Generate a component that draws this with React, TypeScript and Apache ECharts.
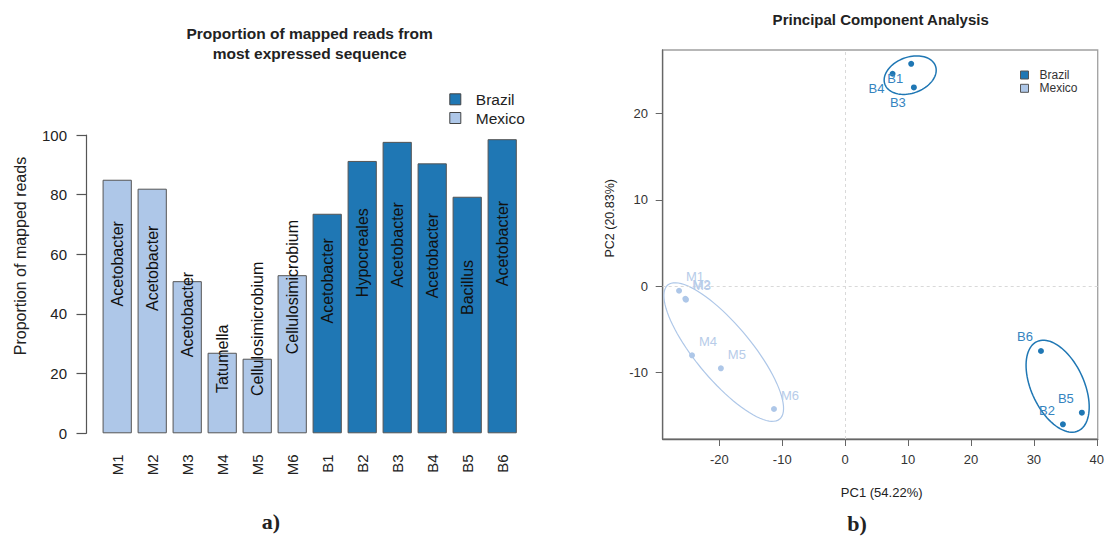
import React, { useEffect, useRef } from "react";
import * as echarts from "echarts";

// ---------- Panel a) data ----------
const sampleIds = ["M1", "M2", "M3", "M4", "M5", "M6", "B1", "B2", "B3", "B4", "B5", "B6"];
const sampleCountry = ["Mexico", "Mexico", "Mexico", "Mexico", "Mexico", "Mexico", "Brazil", "Brazil", "Brazil", "Brazil", "Brazil", "Brazil"];
const topTaxon = ["Acetobacter", "Acetobacter", "Acetobacter", "Tatumella", "Cellulosimicrobium", "Cellulosimicrobium", "Acetobacter", "Hypocreales", "Acetobacter", "Acetobacter", "Bacillus", "Acetobacter"];
const mappedProportion = [85, 82, 51, 27, 25, 53, 73.6, 91.3, 97.7, 90.5, 79.3, 98.6];
const barYTicks = [0, 20, 40, 60, 80, 100];

// ---------- Panel b) data ----------
const pcaSamples = ["M1", "M2", "M3", "M4", "M5", "M6", "B1", "B2", "B3", "B4", "B5", "B6"];
const pcaCountry = ["Mexico", "Mexico", "Mexico", "Mexico", "Mexico", "Mexico", "Brazil", "Brazil", "Brazil", "Brazil", "Brazil", "Brazil"];
const pc1 = [-26.4, -25.4, -25.3, -24.34, -19.75, -11.31, 10.5, 34.62, 10.93, 7.54, 37.63, 31.13];
const pc2 = [-0.52, -1.45, -1.55, -7.99, -9.49, -14.2, 25.73, -15.97, 23.0, 24.58, -14.63, -7.49];
const pc1Ticks = [-20, -10, 0, 10, 20, 30, 40];
const pc2Ticks = [-10, 0, 10, 20];

// confidence ellipses: centre and two semi-axis vectors (data units)
const ellipseGroup = ["Mexico", "Brazil", "Brazil"];
const ellipseCenterX = [-19.3, 33.78, 10.34];
const ellipseCenterY = [-7.61, -11.56, 24.42];
const ellipseAxisA = [[8.9, -7.75], [3.29, -5.16], [4.02, 1.06]];
const ellipseAxisB = [[3.36, 2.06], [3.79, 1.29], [0.975, -1.96]];

const COLORS: Record<string, string> = { Brazil: "#1f77b4", Mexico: "#aec7e8" };
const LABEL_COLORS: Record<string, string> = { Brazil: "#3584bf", Mexico: "#b7cce9" };
const FONT = '"Liberation Sans", Arial, Helvetica, sans-serif';

export default function App() {
  const ref = useRef<HTMLDivElement>(null);

  useEffect(() => {
    if (!ref.current) return;
    const chart = echarts.init(ref.current, null, { renderer: "svg" });

    const barSeries = ["Mexico", "Brazil"].map((grp) => ({
      name: grp,
      type: "bar",
      xAxisIndex: 0,
      yAxisIndex: 0,
      barWidth: "83.5%",
      barGap: "-100%",
      data: mappedProportion.map((v, i) => (sampleCountry[i] === grp ? v : null)),
      itemStyle: { color: COLORS[grp], borderColor: "#555", borderWidth: 1 },
      label: {
        show: true,
        position: ["50%", "50%"],
        rotate: 90,
        align: "left",
        verticalAlign: "middle",
        fontSize: 16,
        fontFamily: FONT,
        color: "#111",
        formatter: (p: any) => topTaxon[p.dataIndex],
      },
    }));

    const scatterSeries = ["Brazil", "Mexico"].map((grp, si) => ({
      name: grp,
      type: "scatter",
      xAxisIndex: 1,
      yAxisIndex: 1,
      symbolSize: 6,
      z: 5,
      itemStyle: { color: COLORS[grp], opacity: 1 },
      data: pc1
        .map((x, i) => ({ x, y: pc2[i], i }))
        .filter((d) => pcaCountry[d.i] === grp)
        .map((d) => ({
          value: [d.x, d.y],
          name: pcaSamples[d.i],
          label: {
            offset: grp === "Mexico" ? [16, -14] : d.y > 0 ? [-16, 15] : [-16, -14],
          },
        })),
      label: {
        show: true,
        position: "inside",
        formatter: (p: any) => p.name,
        fontSize: 13,
        fontFamily: FONT,
        color: LABEL_COLORS[grp],
      },
      markLine:
        si === 0
          ? {
              silent: true,
              symbol: ["none", "none"],
              label: { show: false },
              lineStyle: { type: [3, 3], color: "#d9d9d9", width: 1 },
              data: [{ xAxis: 0 }, { yAxis: 0 }],
            }
          : undefined,
    }));

    const ellipseSeries = {
      name: "ellipses",
      type: "custom",
      xAxisIndex: 1,
      yAxisIndex: 1,
      z: 3,
      silent: true,
      encode: { x: 0, y: 1 },
      data: ellipseCenterX.map((cx, i) => [
        cx,
        ellipseCenterY[i],
        ellipseAxisA[i][0],
        ellipseAxisA[i][1],
        ellipseAxisB[i][0],
        ellipseAxisB[i][1],
      ]),
      renderItem: (params: any, api: any) => {
        const i = params.dataIndex;
        const cx = api.value(0), cy = api.value(1);
        const ax = api.value(2), ay = api.value(3), bx = api.value(4), by = api.value(5);
        const pts: number[][] = [];
        const N = 90;
        for (let k = 0; k <= N; k++) {
          const t = (k / N) * Math.PI * 2;
          const c = Math.cos(t), s = Math.sin(t);
          pts.push(api.coord([cx + ax * c + bx * s, cy + ay * c + by * s]));
        }
        const grp = ellipseGroup[i];
        return {
          type: "polyline",
          shape: { points: pts },
          style: { stroke: COLORS[grp], fill: null, lineWidth: grp === "Brazil" ? 1.5 : 1.2 },
        };
      },
    };

    const txt = (text: string, x: number, y: number, font: string, extra: any = {}) => ({
      type: "text",
      x,
      y,
      silent: true,
      ...extra,
      style: {
        text,
        font,
        fill: "#222",
        textAlign: "center",
        textVerticalAlign: "middle",
        align: "center",
        verticalAlign: "middle",
      },
    });

    const option: any = {
      animation: false,
      backgroundColor: "#fff",
      textStyle: { fontFamily: FONT },
      grid: [
        { left: 99.7, width: 420, top: 135, height: 298.3 },
        {
          left: 662.7,
          width: 436.6,
          top: 50,
          height: 389,
          show: true,
          borderColor: "#a0a0a0",
          borderWidth: 1.3,
          backgroundColor: "transparent",
        },
      ],
      xAxis: [
        {
          type: "category",
          gridIndex: 0,
          data: sampleIds,
          axisLine: { show: false },
          axisTick: { show: false },
          axisLabel: { rotate: 90, margin: 21, fontSize: 15, color: "#222", fontFamily: FONT },
        },
        {
          type: "value",
          gridIndex: 1,
          min: -29,
          max: 40.15,
          splitLine: { show: false },
          axisLine: { show: true, onZero: false, lineStyle: { color: "#666", width: 1.3 } },
          axisTick: { show: true, length: 7, customValues: pc1Ticks, lineStyle: { color: "#666" } },
          axisLabel: { customValues: pc1Ticks, margin: 14, fontSize: 13, color: "#333", fontFamily: FONT },
        },
      ],
      yAxis: [
        {
          type: "value",
          gridIndex: 0,
          min: 0,
          max: 100,
          interval: 20,
          offset: 13.7,
          splitLine: { show: false },
          axisLine: { show: true, lineStyle: { color: "#555", width: 1.2 } },
          axisTick: { show: true, length: 9.5, lineStyle: { color: "#555", width: 1.2 } },
          axisLabel: {
            margin: 19,
            fontSize: 15,
            color: "#222",
            fontFamily: FONT,
            formatter: (v: number) => (barYTicks.includes(v) ? String(v) : ""),
          },
        },
        {
          type: "value",
          gridIndex: 1,
          min: -17.67,
          max: 27.33,
          splitLine: { show: false },
          axisLine: { show: true, onZero: false, lineStyle: { color: "#666", width: 1.3 } },
          axisTick: { show: true, length: 7, customValues: pc2Ticks, lineStyle: { color: "#666" } },
          axisLabel: { customValues: pc2Ticks, margin: 14.7, fontSize: 13, color: "#333", fontFamily: FONT },
        },
      ],
      legend: [
        {
          data: ["Brazil", "Mexico"],
          orient: "vertical",
          left: 449.3,
          top: 91.3,
          padding: 0,
          icon: "rect",
          itemWidth: 11,
          itemHeight: 11,
          itemGap: 2.7,
          selectedMode: false,
          itemStyle: { borderColor: "#444", borderWidth: 1 },
          textStyle: { fontSize: 15.5, lineHeight: 16, color: "#222", fontFamily: FONT, padding: [0, 0, 0, 10] },
        },
        {
          data: ["Brazil", "Mexico"],
          orient: "vertical",
          left: 1020,
          top: 68.5,
          padding: 0,
          icon: "rect",
          itemWidth: 8,
          itemHeight: 8,
          itemGap: 0.3,
          selectedMode: false,
          itemStyle: { borderColor: "#555", borderWidth: 1 },
          textStyle: { fontSize: 12, lineHeight: 13, color: "#333", fontFamily: FONT, padding: [0, 0, 0, 6] },
        },
      ],
      graphic: [
        txt("Proportion of mapped reads from", 309.6, 33.3, `bold 15.5px ${FONT}`),
        txt("most expressed sequence", 309.6, 53.3, `bold 15.5px ${FONT}`),
        txt("Proportion of mapped reads", 20, 256, `16px ${FONT}`, { rotation: Math.PI / 2 }),
        txt("Principal Component Analysis", 880.7, 19, `bold 15px ${FONT}`),
        txt("PC1 (54.22%)", 881.7, 492.3, `13px ${FONT}`),
        txt("PC2 (20.83%)", 610, 218.3, `12.5px ${FONT}`, { rotation: Math.PI / 2 }),
        txt("a)", 271, 521, 'bold 22px "Liberation Serif", "Times New Roman", serif'),
        txt("b)", 857, 523, 'bold 22px "Liberation Serif", "Times New Roman", serif'),
      ],
      series: [...barSeries, ellipseSeries, ...scatterSeries],
    };

    chart.setOption(option);
    return () => chart.dispose();
  }, []);

  return (
    <div
      ref={ref}
      style={{ position: "fixed", left: 0, top: 0, width: 1107, height: 536, background: "#fff" }}
    />
  );
}
